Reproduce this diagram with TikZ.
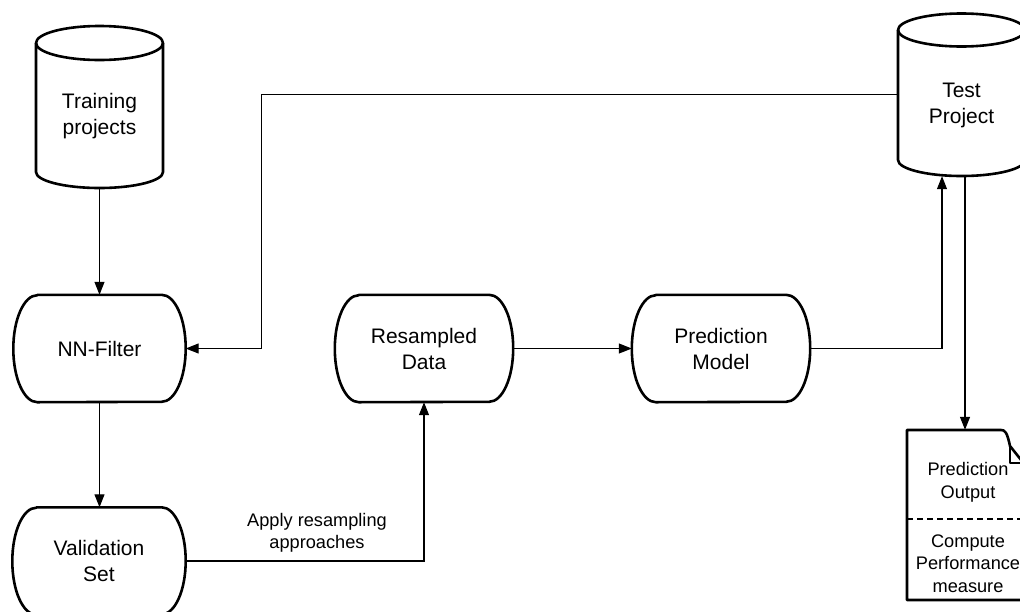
\documentclass[tikz,border=0pt]{standalone}
\usepackage{fontspec}
\setmainfont{Liberation Sans}
\usetikzlibrary{arrows.meta,calc}
\begin{document}
\begin{tikzpicture}[x=1pt,y=-1pt,
  outl/.style={line width=2.6pt, line join=round},
  conn/.style={line width=1.2pt,-{Triangle[length=13pt,width=10pt]}},
  thinline/.style={line width=1.2pt},
  big/.style={font=\fontsize{21}{26}\selectfont, align=center},
  small/.style={font=\fontsize{18.2}{22.5}\selectfont, align=center},
  store/.style={big, minimum height=107pt, inner sep=0pt},
  holder/.style={inner sep=0pt}]
\useasboundingbox (0,0) rectangle (1020,611);
\clip (0,0) rectangle (1020,611);

% storage nodes
\node[store, minimum width=172pt] (nn) at (99.5,348.5) {NN-Filter};
\node[store, minimum width=173pt] (val) at (99,561) {Validation\\Set};
\node[store, minimum width=178pt] (res) at (424,348.5) {Resampled\\Data};
\node[store, minimum width=178pt] (pm) at (721,348.5) {Prediction\\Model};
\foreach \n in {nn,val,res,pm}{
  \draw[outl] ($(\n.north west)+(24pt,0)$) -- ($(\n.north east)+(-24pt,0)$)
    arc[start angle=90,end angle=-90,x radius=24pt,y radius=53.5pt]
    -- ($(\n.south west)+(24pt,0)$)
    arc[start angle=270,end angle=90,x radius=24pt,y radius=53.5pt] -- cycle;
}

% training cylinder
\node[holder, minimum width=127pt, minimum height=162pt] (tr) at (99.5,107) {};
\node[big] (trl) at (99.5,116) {Training\\projects};
\draw[outl] (99.5,43) ellipse [x radius=63.5pt, y radius=17pt];
\draw[outl] (36,43) -- (36,172) arc[start angle=180,end angle=360,x radius=63.5pt,y radius=16pt] -- (163,43);

% test cylinder
\node[holder, minimum width=127pt, minimum height=162.5pt] (tp) at (961.5,94.75) {};
\node[big] (tpl) at (961.5,105) {Test\\Project};
\draw[outl] (961.5,30) ellipse [x radius=63.5pt, y radius=16.5pt];
\draw[outl] (898,30) -- (898,160) arc[start angle=180,end angle=360,x radius=63.5pt,y radius=16pt] -- (1025,30);

% document
\node[holder, minimum width=126pt, minimum height=170pt] (doc) at (970,515) {};
\draw[outl] (1001,430) -- (907,430) -- (907,600) -- (1033,600) -- (1033,475) -- (1010,446)
  .. controls (1007,432) and (1005,430) .. (1001,430);
\draw[outl] (1010,446) -- (1010,463) -- (1023.5,463);
\draw[line width=1.2pt, dash pattern=on 6pt off 4pt] (907,519) -- (1033,519);
\node[small] (d1) at (968,482.5) {Prediction\\Output};
\node[small] (d2) at (968,563.5) {Compute\\Performance\\measure};

% connectors
\draw[conn] (tr.south) -- (tr.south |- nn.north);
\draw[conn] (nn.south) -- (nn.south |- val.north);
\draw[conn] (tp.west) -- ++(-636,0) |- (nn.east);
\draw[conn] (val.east) -| (res.south);
\node[small] (lab) at (317,533) {Apply resampling\\approaches};
\draw[conn] (res.east) -- (pm.west);
\draw[conn] (pm.east) -| ([xshift=-19.5pt]tp.south);
\draw[conn] ([xshift=3.5pt]tp.south) -- ([xshift=3.5pt]tp.south |- doc.north);
\end{tikzpicture}
\end{document}
